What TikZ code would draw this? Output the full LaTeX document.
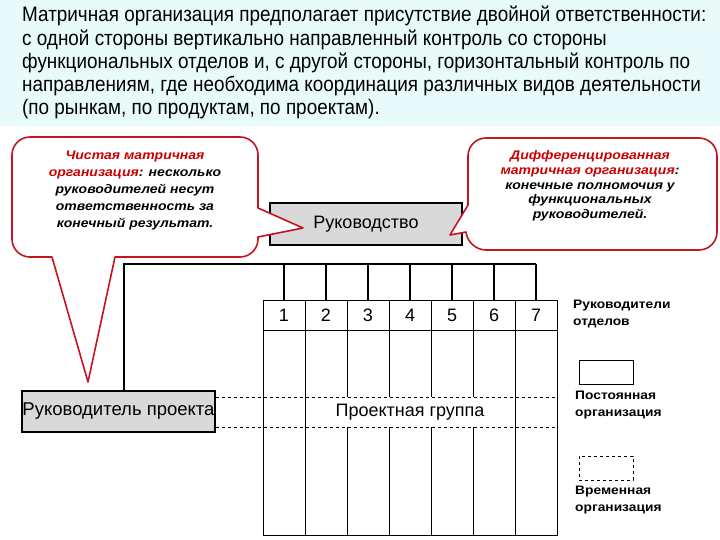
\documentclass[tikz,border=0pt]{standalone}
\usepackage{fontspec}
\setmainfont{Liberation Sans}
\newfontfamily\narrowfont[FakeStretch=0.9]{Liberation Sans}
\newfontfamily\widefont[FakeStretch=1.12]{Liberation Sans}
\usetikzlibrary{positioning}
\definecolor{calloutred}{RGB}{196,20,32}
\definecolor{textred}{RGB}{204,0,0}
\definecolor{boxgray}{RGB}{217,217,217}
\definecolor{headcyan}{RGB}{232,250,250}

\begin{document}
\begin{tikzpicture}[
    x=1pt, y=-1pt,
    graybox/.style={draw, fill=boxgray, line width=1.4pt, inner sep=0pt, font=\fontsize{18}{20}\selectfont},
    callout/.style={draw=calloutred, fill=white, line width=1.6pt, line join=round},
    note/.style={align=center, inner sep=0pt},
    legend/.style={align=left, anchor=north west, inner sep=0pt, font=\widefont\fontsize{12.3}{16.5}\selectfont\bfseries},
    cell/.style={font=\fontsize{18}{20}\selectfont, inner sep=0pt},
    gridline/.style={line width=1pt}
]
\useasboundingbox (0,0) rectangle (720,540);
\fill[headcyan] (0,0) rectangle (720,126);

% heading
\node[anchor=north west, align=left, inner sep=0pt,
      font=\narrowfont\fontsize{21}{23.3}\selectfont] (head) at (22,6)
  {Матричная организация предполагает присутствие двойной ответственности:\\
   с одной стороны вертикально направленный контроль со стороны\\
   функциональных отделов и, с другой стороны, горизонтальный контроль по\\
   направлениям, где необходима координация различных видов деятельности\\
   (по рынкам, по продуктам, по проектам).};

% boxes
\node[graybox, minimum width=192pt, minimum height=42pt] (lead) at (366,224) {Руководство};
\node[graybox, minimum width=193pt, minimum height=41pt, font=\fontsize{18.5}{20}\selectfont] (pm) at (118.5,411.5) {Руководитель проекта};

% grid of departments
\draw[gridline] (263,300) rectangle (557,535);
\draw[gridline] (263,330) -- (557,330);
\foreach \x in {305,515}
  \draw[gridline] (\x,300) -- (\x,535);
\foreach \x in {347,389,431,473} {
  \draw[gridline] (\x,300) -- (\x,397);
  \draw[gridline] (\x,427) -- (\x,535);
}
\foreach \i in {1,...,7}
  \node[cell] (n\i) at ({242+42*\i},315) {\i};
\node[cell] (team) at (410,412) {Проектная группа};
\draw[dashed, line width=0.9pt] (pm.east |- 0,397) -- (557,397);
\draw[dashed, line width=0.9pt] (pm.east |- 0,427) -- (557,427);

% bus to department heads
\coordinate (bus) at (124,264);
\draw[line width=1.4pt] (pm.north -| bus) -- (bus) -- (n7 |- bus);
\foreach \i in {1,...,7}
  \draw[line width=1.4pt] (n\i |- bus) -- (n\i |- 0,300);

% callouts
\draw[callout] (135,137) [rounded corners=18pt] -- (258,137) [sharp corners] -- (258,208)
  -- (303,228) -- (258,237) [rounded corners=18pt] -- (258,257) [sharp corners] -- (115,257)
  -- (88,382) -- (52,257) [rounded corners=18pt] -- (12,257) -- (12,137) -- cycle;
\node[note, font=\widefont\fontsize{12.5}{17}\selectfont\bfseries\itshape] (pureNote) at (135,190)
  {{\color{textred}Чистая матричная}\\{\color{textred}организация}: несколько\\
   руководителей несут\\ответственность за\\конечный результат.};

\draw[callout] (600,138) [rounded corners=18pt] -- (717,138) -- (717,250) -- (468,250)
  [sharp corners] -- (466,232) -- (450,235) -- (468,205) [rounded corners=18pt] -- (468,138) -- cycle;
\node[note, font=\widefont\fontsize{12.5}{14.7}\selectfont\bfseries\itshape] (diffNote) at (590,186)
  {{\color{textred}Дифференцированная}\\{\color{textred}матричная организация}:\\
   конечные полномочия у\\функциональных\\руководителей.};

% legend
\node[legend] (lgHeads) at (573,300) {Руководители\\отделов};
\node[draw, line width=0.8pt, minimum width=54pt, minimum height=24pt] (lgSolid) at (606,372) {};
\node[legend] (lgPerm) at (575,391) {Постоянная\\организация};
\node[draw, dashed, line width=0.8pt, minimum width=54pt, minimum height=24pt] (lgDash) at (606,468) {};
\node[legend] (lgTemp) at (575,486) {Временная\\организация};
\end{tikzpicture}
\end{document}
